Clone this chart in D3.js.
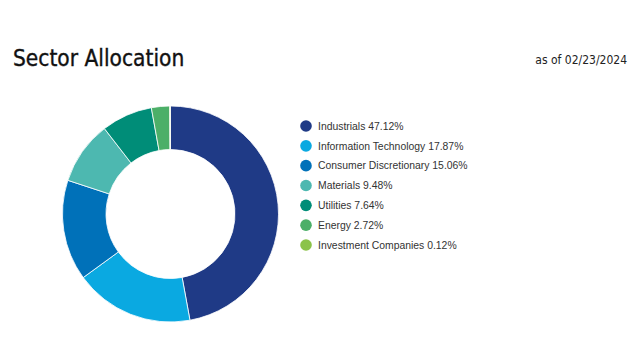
<!DOCTYPE html>
<html><head><meta charset="utf-8">
<script src="https://cdn.jsdelivr.net/npm/d3@7"></script>
<style>body{margin:0;background:#fff;}svg{display:block;}</style>
</head><body>
<svg id="c" width="640" height="355"></svg>
<script>
const categories = ["Industrials","Information Technology","Consumer Discretionary","Materials","Utilities","Energy","Investment Companies"];
const values = [47.12, 17.87, 15.06, 9.48, 7.64, 2.72, 0.12];
const colors = ["#1f3a86","#0aa9e1","#0071b9","#4db8b0","#008d78","#4caf68","#8bc34a"];
const title = "Sector Allocation";
const asOf = "as of 02/23/2024";

const svg = d3.select("#c");
svg.append("text").attr("x",13).attr("y",66).attr("font-family","'DejaVu Sans Condensed', 'DejaVu Sans', sans-serif")
  .attr("font-size",22.5).attr("fill","#111").attr("stroke","#111").attr("stroke-width",0.35).text(title);
svg.append("text").attr("x",627).attr("y",64).attr("text-anchor","end")
  .attr("font-family","'DejaVu Sans Condensed','DejaVu Sans',sans-serif").attr("font-size",12).attr("fill","#222").text(asOf);

const data = categories.map((c,i)=>({name:c,value:values[i],color:colors[i]}));
const pie = d3.pie().value(d=>d.value).sort(null);
const arc = d3.arc().innerRadius(64.5).outerRadius(108);
const g = svg.append("g").attr("transform","translate(170.5,214)");
g.selectAll("path").data(pie(data)).join("path")
  .attr("d",arc).attr("fill",d=>d.data.color).attr("stroke","#fff").attr("stroke-width",0.8);

const y = d3.scalePoint().domain(categories).range([126,245]);
const lg = svg.append("g");
lg.selectAll("circle").data(data).join("circle")
  .attr("cx",306).attr("cy",d=>y(d.name)).attr("r",5.8).attr("fill",d=>d.color);
lg.selectAll("text").data(data).join("text")
  .attr("x",318).attr("y",d=>y(d.name)).attr("dy","0.36em")
  .attr("font-family","'Liberation Sans',Arial,sans-serif").attr("font-size",10.4).attr("fill","#333")
  .text(d=>`${d.name} ${d.value.toFixed(2)}%`);
</script>
</body></html>
